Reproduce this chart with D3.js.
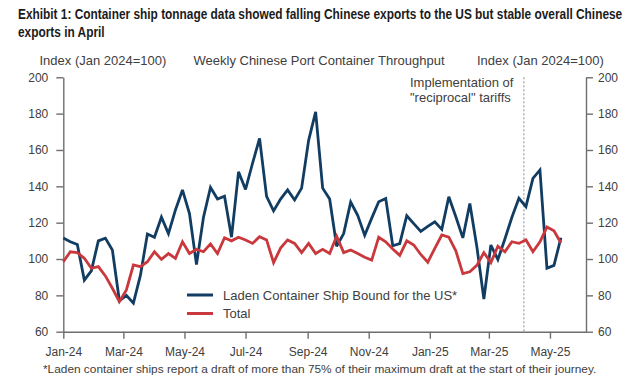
<!DOCTYPE html>
<html><head><meta charset="utf-8">
<script src="https://cdn.jsdelivr.net/npm/d3@7"></script>
<style>
body{margin:0;background:#fff}
svg text{font-family:"Liberation Sans",Arial,Helvetica,sans-serif}
</style>
</head><body>
<svg id="c" width="639" height="383"></svg>
<script>
// ---- data ----
const weeks = [
 "2024-01-01","2024-01-08","2024-01-15","2024-01-22","2024-01-29","2024-02-05","2024-02-12","2024-02-19","2024-02-26",
 "2024-03-04","2024-03-11","2024-03-18","2024-03-25","2024-04-01","2024-04-08","2024-04-15","2024-04-22","2024-04-29",
 "2024-05-06","2024-05-13","2024-05-20","2024-05-27","2024-06-03","2024-06-10","2024-06-17","2024-06-24","2024-07-01",
 "2024-07-08","2024-07-15","2024-07-22","2024-07-29","2024-08-05","2024-08-12","2024-08-19","2024-08-26","2024-09-02",
 "2024-09-09","2024-09-16","2024-09-23","2024-09-30","2024-10-07","2024-10-14","2024-10-21","2024-10-28","2024-11-04",
 "2024-11-11","2024-11-18","2024-11-25","2024-12-02","2024-12-09","2024-12-16","2024-12-23","2024-12-30","2025-01-06",
 "2025-01-13","2025-01-20","2025-01-27","2025-02-03","2025-02-10","2025-02-17","2025-02-24","2025-03-03","2025-03-10",
 "2025-03-17","2025-03-24","2025-03-31","2025-04-07","2025-04-14","2025-04-21","2025-04-28","2025-05-05","2025-05-12"
];
const ladenUS = [
 111.5,109.5,108,88.4,93.5,110,111.5,105,77,80,75.7,91,113.8,112,123,114,127,138,
 125,97,123,139.4,133,134.6,112,148,138.3,152.7,166.4,134.5,126.5,133,138,132.5,139,165.3,
 181,139,133,107,114,131.3,124,113,122.5,131.5,133.3,107.3,108.5,123.8,119.5,115.2,118,120.5,
 116.3,134.3,123.3,111.6,130.5,106.8,78,107.7,99.7,111,123,133.4,128.8,144.4,149,94.9,96.5,111.7
];
const totalSeries = [
 98.5,104,103.5,100.4,94.9,95.8,90.7,83.9,76.5,83,96.7,95.8,98.5,104,99.8,103,100.4,109.5,
 103,105.3,104,108.3,103,111.7,110,112,110.5,108.6,112.3,110.5,98,106,110.5,108.6,103.5,108.6,
 103,105.3,103,112.6,103.5,105,103,101,99.4,112,109.5,105.5,102,110,107.7,102.5,98.2,105.9,
 113.2,112,104.5,92,93,96.5,103.5,98,107,104,109.5,108.6,110.6,104,109.5,117.6,115.5,108.8
];
const yTicks = [60,80,100,120,140,160,180,200];
const xTickDates = ["2024-01-01","2024-03-01","2024-05-01","2024-07-01","2024-09-01","2024-11-01","2025-01-01","2025-03-01","2025-05-01"];
const xDomain = ["2024-01-01","2025-06-06"];
const tariffDate = "2025-04-05";
const seriesNames = ["Laden Container Ship Bound for the US*","Total"];
const seriesColors = ["#123d62","#c9383c"];

// ---- drawing ----
const parse = d3.utcParse("%Y-%m-%d");
const svg = d3.select("#c");
const L = 63.3, R = 586, T = 77.3, B = 331.7;
const x = d3.scaleUtc().domain(xDomain.map(parse)).range([L, R]);
const y = d3.scaleLinear().domain([60, 200]).range([B, T]);
const textCol = "#404040", axisCol = "#6e6e6e";

// title
const tg = svg.append("g").attr("fill", "#1b1b1b").attr("font-weight", "bold")
  .style("font-family", '"Liberation Sans Narrow","DejaVu Sans Condensed",Arial,sans-serif')
  .attr("font-size", 15);
const t1 = tg.append("text").attr("x", 0).attr("y", 19)
  .text("Exhibit 1: Container ship tonnage data showed falling Chinese exports to the US but stable overall Chinese");
tg.append("text").attr("x", 0).attr("y", 37).text("exports in April");
const w1 = t1.node().getComputedTextLength();
tg.attr("transform", `translate(18,0) scale(${605 / w1},1)`);

// headers
const hdr = svg.append("g").attr("fill", textCol).attr("font-size", 13);
hdr.append("text").attr("x", 39.5).attr("y", 65).text("Index (Jan 2024=100)");
hdr.append("text").attr("x", 193.5).attr("y", 65).text("Weekly Chinese Port Container Throughput");
hdr.append("text").attr("x", 477).attr("y", 65).text("Index (Jan 2024=100)");

// axes
function styleAxis(g) {
  g.select(".domain").attr("stroke", axisCol).attr("stroke-width", 1.4);
  g.selectAll(".tick line").attr("stroke", axisCol).attr("stroke-width", 1.4);
  g.selectAll(".tick text").attr("fill", textCol).attr("font-size", 12)
    .style("font-family", '"Liberation Sans",Arial,sans-serif');
}
svg.append("g").attr("transform", `translate(${L},0)`)
  .call(d3.axisLeft(y).tickValues(yTicks).tickSize(7).tickSizeOuter(0).tickPadding(8))
  .call(styleAxis);
svg.append("g").attr("transform", `translate(${R},0)`)
  .call(d3.axisRight(y).tickValues(yTicks).tickSize(7).tickSizeOuter(0).tickPadding(5))
  .call(styleAxis);
svg.append("g").attr("transform", `translate(0,${B})`)
  .call(d3.axisBottom(x).tickValues(xTickDates.map(parse)).tickFormat(d3.utcFormat("%b-%y"))
    .tickSize(7).tickSizeOuter(0).tickPadding(9))
  .call(styleAxis);

// tariff marker
const xt = x(parse(tariffDate));
svg.append("line").attr("x1", xt).attr("x2", xt).attr("y1", T).attr("y2", B)
  .attr("stroke", "#8a8a8a").attr("stroke-width", 1).attr("stroke-dasharray", "2,2");
const ann = svg.append("g").attr("fill", textCol).attr("font-size", 13);
ann.append("text").attr("x", 410).attr("y", 87).text("Implementation of");
ann.append("text").attr("x", 410).attr("y", 102).text("\"reciprocal\" tariffs");

// lines
const dates = weeks.map(parse);
const line = d3.line().x((d, i) => x(dates[i])).y(d => y(d));
[ladenUS, totalSeries].forEach((s, k) => {
  svg.append("path").datum(s).attr("d", line).attr("fill", "none")
    .attr("stroke", seriesColors[k]).attr("stroke-width", 2.8)
    .attr("stroke-linejoin", "miter").attr("stroke-miterlimit", 3);
});

// legend
const lg = svg.append("g").attr("font-size", 13).attr("fill", textCol);
seriesNames.forEach((n, k) => {
  const yy = 295 + k * 18.5;
  lg.append("line").attr("x1", 187).attr("x2", 213).attr("y1", yy).attr("y2", yy)
    .attr("stroke", seriesColors[k]).attr("stroke-width", 3);
  lg.append("text").attr("x", 223).attr("y", yy).attr("dy", "0.36em").text(n);
});

// footnote
const fn = svg.append("text").attr("x", 0).attr("y", 373).attr("fill", textCol).attr("font-size", 11.5)
  .text("*Laden container ships report a draft of more than 75% of their maximum draft at the start of their journey.");
const wf = fn.node().getComputedTextLength();
fn.attr("transform", `translate(43,0) scale(${554 / wf},1)`);
</script>
</body></html>
